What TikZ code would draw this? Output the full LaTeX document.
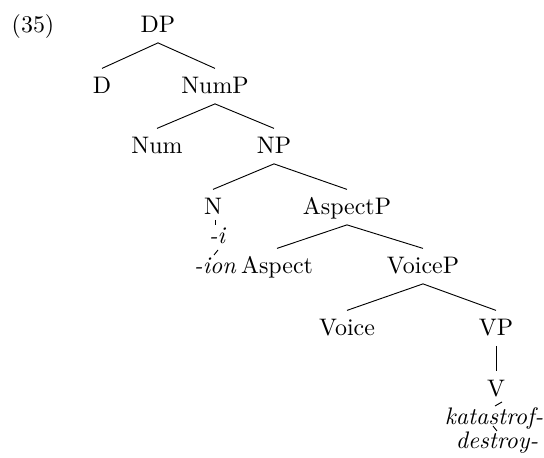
\documentclass[tikz,border=0pt]{standalone}
\begin{document}
\begin{tikzpicture}[x=0.4348pt,y=-0.4348pt,
  font=\fontsize{10.4pt}{12pt}\selectfont,
  cat/.style={inner sep=0pt, outer xsep=0pt, outer ysep=4.3pt,
    text height=6.83pt, text depth=0pt, anchor=base},
  gloss/.style={inner sep=0pt, outer sep=0pt, anchor=base,
    font=\fontsize{10.4pt}{12pt}\selectfont\itshape},
  branch/.style={line width=0.4pt},
  tick/.style={line width=0.4pt}]
\useasboundingbox (0,0) rectangle (544,458);

% example number
\node[anchor=base] (ex) at (33,33) {(35)};

% categories
\node[cat] (dp)     at (158,33)  {DP};
\node[cat] (d)      at (102,94)  {D};
\node[cat] (nump)   at (215,94)  {NumP};
\node[cat] (num)    at (157,154) {Num};
\node[cat] (np)     at (274,154) {NP};
\node[cat] (n)      at (213,215) {N};
\node[cat] (aspp)   at (347,215) {AspectP};
\node[cat] (asp)    at (277,274) {Aspect};
\node[cat] (voicep) at (423,274) {VoiceP};
\node[cat] (voice)  at (347,336) {Voice};
\node[cat] (vp)     at (496,336) {VP};
\node[cat] (v)      at (496,397) {V};

% exponents
\node[gloss] (i)   at (217,244) {-i};
\node[gloss] (ion) at (215,274) {-ion};
\node[gloss] (kat) at (494,425) {katastrof-};
\node[gloss] (des) at (497,449) {destroy-};

% branches
\draw[branch] (dp.south) -- (d.north);
\draw[branch] (dp.south) -- (nump.north);
\draw[branch] (nump.south) -- (num.north);
\draw[branch] (nump.south) -- (np.north);
\draw[branch] (np.south) -- (n.north);
\draw[branch] (np.south) -- (aspp.north);
\draw[branch] (aspp.south) -- (asp.north);
\draw[branch] (aspp.south) -- (voicep.north);
\draw[branch] (voicep.south) -- (voice.north);
\draw[branch] (voicep.south) -- (vp.north);
\draw[branch] (vp.south) -- (v.north);

% short association lines to the exponents
\draw[tick] ([shift={(2,5)}]n.base) -- ([shift={(-2,-19)}]i.base);
\draw[tick] ([shift={(1,6)}]i.base) -- ([shift={(-1,-19)}]ion.base);
\draw[tick] ([shift={(6,5)}]v.base) -- ([shift={(1,-19)}]kat.base);
\draw[tick] ([shift={(-1,1)}]kat.base) -- ([shift={(0,-18)}]des.base);
\end{tikzpicture}
\end{document}
